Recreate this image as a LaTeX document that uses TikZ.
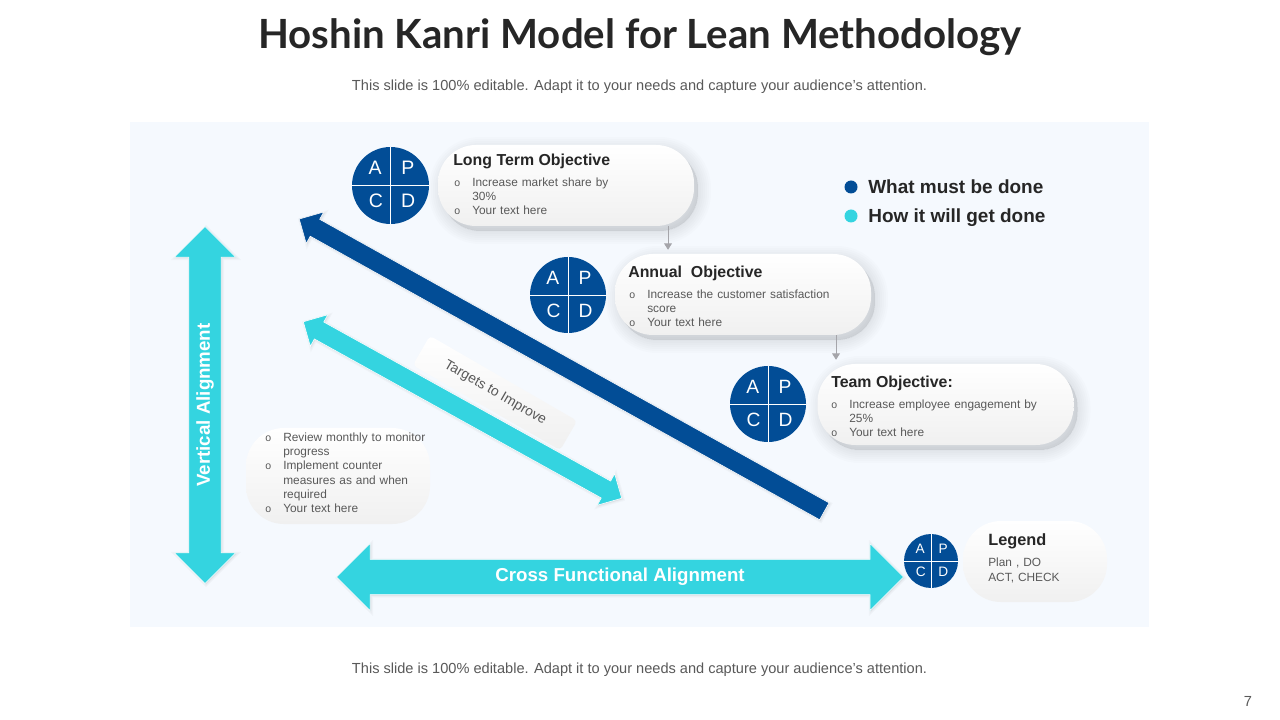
\documentclass[tikz,border=0pt]{standalone}
\usepackage{fontspec}
\setmainfont{Liberation Sans}
\newfontfamily\titlefont{Lato}
\usetikzlibrary{arrows.meta,positioning,shapes.arrows}
\definecolor{pagegray}{RGB}{89,89,89}
\definecolor{darktext}{RGB}{38,38,38}
\definecolor{panelfill}{RGB}{245,249,254}
\definecolor{pdcablue}{RGB}{2,77,150}
\definecolor{aquafill}{RGB}{52,212,224}
\definecolor{linkgray}{RGB}{165,165,170}
\definecolor{pillend}{RGB}{240,240,240}
\newlength{\pxu}\setlength{\pxu}{0.025cm}
\newcommand{\bulletlist}[1]{\begin{list}{\fontsize{7.5}{8}\selectfont o}{\setlength{\leftmargin}{19\pxu}\setlength{\labelwidth}{6\pxu}\setlength{\labelsep}{12\pxu}\setlength{\itemsep}{0pt}\setlength{\parsep}{0pt}\setlength{\topsep}{0pt}\setlength{\partopsep}{0pt}}#1\end{list}}
\begin{document}
\begin{tikzpicture}[
  x=0.025cm, y=-0.025cm,
  pdcadisc/.style={circle, fill=pdcablue, inner sep=0pt},
  pdcacross/.style={draw=white, line width=0.7pt},
  pdcaletter/.style={text=white, inner sep=0pt},
  softlayer/.style={preaction={draw=black, fill=black, opacity=0.01, line width=#1, transform canvas={xshift=4\pxu, yshift=-5\pxu}}},
  softshadow/.style={softlayer=26\pxu, softlayer=22\pxu, softlayer=18\pxu, softlayer=14\pxu, softlayer=10\pxu, softlayer=6\pxu, softlayer=2\pxu},
  edgelayer/.style={preaction={draw=black, fill=black, opacity=0.025, line width=#1, transform canvas={xshift=1\pxu, yshift=-1\pxu}}},
  arrowshadow/.style={edgelayer=4\pxu, edgelayer=2\pxu},
  pillbox/.style={rounded corners=38\pxu, top color=white, bottom color=pillend, inner sep=0pt, minimum width=256\pxu, minimum height=81\pxu, softshadow},
  flatpill/.style={rounded corners=38\pxu, top color=white, bottom color=pillend, inner sep=0pt},
  titletext/.style={font=\fontsize{11.3}{13}\selectfont\bfseries, text=darktext, anchor=base west, inner sep=0pt},
  bodytext/.style={font=\fontsize{8.45}{10.1}\selectfont, text=pagegray, anchor=north west, inner sep=0pt, align=left},
  aquaarrow/.style={arrowshadow, fill=aquafill, draw=white, line width=0.4pt, inner sep=0pt, text=white,
    font=\fontsize{13.3}{16}\selectfont\bfseries},
  linkarrow/.style={-{Triangle[length=4.5pt,width=5.5pt]}, draw=linkgray, line width=0.7pt},
  keydot/.style={circle, inner sep=0pt, minimum size=13\pxu},
  keytext/.style={font=\fontsize{13.5}{16}\selectfont\bfseries, text=darktext, anchor=base west, inner sep=0pt}
]
\useasboundingbox (0,0) rectangle (1280,720);
\fill[white] (0,0) rectangle (1280,720);

% heading
\node[font=\titlefont\fontsize{28.6}{34}\selectfont\bfseries, text=darktext] (heading) at (640,37) {Hoshin Kanri Model for Lean Methodology};
\node[font=\fontsize{10.37}{12}\selectfont, text=pagegray] (subhead) at (639.5,87) {This slide is 100\% editable. Adapt it to your needs and capture your audience's attention.};
\node[font=\fontsize{10.37}{12}\selectfont, text=pagegray] (subfoot) at (639.5,670) {This slide is 100\% editable. Adapt it to your needs and capture your audience's attention.};
\node[font=\fontsize{10.4}{12}\selectfont, text=pagegray] (pageno) at (1248,701) {7};

\fill[panelfill] (130,122) rectangle (1149,627);

% small pills
\node[flatpill, minimum width=170\pxu, minimum height=34\pxu, rounded corners=4\pxu, rotate=-30] (targetpill) at (495,393) {};
\node[flatpill, minimum width=184\pxu, minimum height=96\pxu] (reviewpill) at (338,476) {};

% big arrows
\node[aquaarrow, shape=double arrow, double arrow head extend=14.5\pxu, inner ysep=7\pxu, minimum width=61\pxu, minimum height=357\pxu, rotate=90] (vertical) at (205,405) {Vertical Alignment};
\node[aquaarrow, shape=double arrow, double arrow head extend=16\pxu, inner ysep=8.5\pxu, minimum width=67\pxu, minimum height=567\pxu] (cross) at (620,577) {Cross Functional Alignment};
\node[aquaarrow, shape=double arrow, double arrow head extend=8\pxu, inner ysep=9\pxu, minimum width=36\pxu, minimum height=364\pxu, rotate=-29] (targets) at (462.5,410) {};
\node[arrowshadow, shape=single arrow, fill=pdcablue, draw=white, line width=0.4pt, inner sep=0pt, inner ysep=9\pxu, single arrow head extend=8\pxu, minimum width=36\pxu, minimum height=601\pxu, rotate=150.9] (mustarrow) at (566,367.5) {};

\node[font=\fontsize{9.9}{11}\selectfont, text=pagegray, rotate=-30] (targetlabel) at (495,393) {Targets to Improve};
\node[bodytext, text width=169\pxu] (reviewtext) at (264,427) {\bulletlist{\item Review monthly to monitor progress \item Implement counter measures as and when required \item Your text here}};

% objective pills
\node[pillbox] (longbox) at (566,185.5) {};
\node[pillbox] (annualbox) at (743,294.5) {};
\node[pillbox] (teambox) at (945.5,404.5) {};
\node[flatpill, minimum width=144\pxu, minimum height=81\pxu] (legendbox) at (1035,561.5) {};

\node[titletext] (longtitle) at (453,166) {Long Term Objective};
\node[bodytext, text width=172\pxu] (longtext) at (453,172) {\bulletlist{\item Increase market share by 30\% \item Your text here}};
\node[titletext] (annualtitle) at (628,278) {Annual\ \ Objective};
\node[bodytext, text width=212\pxu] (annualtext) at (628,284) {\bulletlist{\item Increase the customer satisfaction score \item Your text here}};
\node[titletext] (teamtitle) at (831,388) {Team Objective:};
\node[bodytext, text width=217\pxu] (teamtext) at (830,394) {\bulletlist{\item Increase employee engagement by 25\% \item Your text here}};
\node[titletext, font=\fontsize{11.6}{13}\selectfont\bfseries] (legendtitle) at (988,545) {Legend};
\node[bodytext, text width=110\pxu] (legendtext) at (988,558) {Plan , DO\\ACT,\ CHECK};

\coordinate (annualtop) at (668,254);
\coordinate (teamtop) at (836,364);
\draw[linkarrow, shorten >=3pt] (longbox.south -| annualtop) -- (annualtop);
\draw[linkarrow, shorten >=3pt] (annualbox.south -| teamtop) -- (teamtop);

% pdca discs
\foreach \name/\cx/\cy/\rad in {longdisc/390.5/185.5/38.5, annualdisc/568/295/38, teamdisc/768/404/38, legenddisc/931/561/27}{
  \node[pdcadisc, minimum size=\rad*2*\pxu] (\name) at (\cx,\cy) {};
  \draw[pdcacross] (\name.north) -- (\name.south);
  \draw[pdcacross] (\name.west) -- (\name.east);
  \pgfmathsetmacro{\fsize}{\rad*0.36}
  \foreach \ltr/\ax/\ay in {A/-0.40/-0.45, P/0.45/-0.45, C/-0.38/0.41, D/0.46/0.41}{
    \node[pdcaletter, font=\fontsize{\fsize}{\fsize}\selectfont] at (\cx+\ax*\rad,\cy+\ay*\rad) {\ltr};
  }
}

% key
\node[keydot, fill=pdcablue] (mustdot) at (851,187) {};
\node[keydot, fill=aquafill] (howdot) at (851,216) {};
\node[keytext] (mustlabel) at (868,194) {What must be done};
\node[keytext] (howlabel) at (868,223) {How it will get done};
\end{tikzpicture}
\end{document}
